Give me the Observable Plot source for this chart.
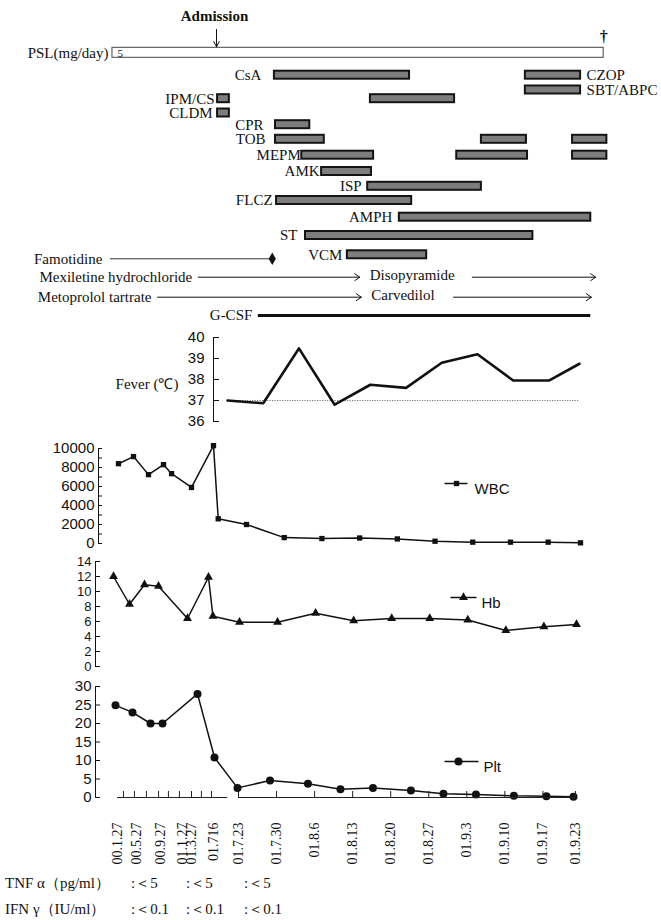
<!DOCTYPE html>
<html>
<head>
<meta charset="utf-8">
<script src="https://cdn.jsdelivr.net/npm/d3@7"></script>
<script src="https://cdn.jsdelivr.net/npm/@observablehq/plot@0.6"></script>
<style>
  body { margin: 0; background: #fff; }
  #fig { position: relative; width: 661px; height: 920px; overflow: hidden; background: #fff; }
  .note { position: absolute; font-family: "Liberation Serif", "Times New Roman", serif; font-size: 15px; line-height: 17px; white-space: pre; color: #111; }
</style>
</head>
<body>
<div id="fig"></div>
<script>
// ================= DATA =================
// Treatment timeline: day 0 = admission (01.7.16)
const lanes = ["Admission","PSL(mg/day)","CsA","SBT/ABPC","IPM/CS","CLDM","CPR","TOB","MEPM","AMK","ISP","FLCZ","AMPH","ST","VCM","Famotidine","Mexiletine hydrochloride","Metoprolol tartrate","G-CSF"];
const admissionDay = 0;
const deathDay = 72.2;
const pslSpan = [-19.4, 72.2];
const pslDose = "5";
const courseDrug  = ["CsA","CZOP","SBT/ABPC","IPM/CS","IPM/CS","CLDM","CPR","TOB","TOB","TOB","MEPM","MEPM","MEPM","AMK","ISP","FLCZ","AMPH","ST","VCM"];
const courseStart = [10.8, 57.6, 57.6, 0.2, 28.7, 0.2, 11.0, 11.0, 49.4, 66.4, 15.9, 44.8, 66.4, 19.6, 28.2, 11.2, 34.1, 16.6, 24.4];
const courseEnd   = [36.0, 67.9, 67.9, 2.4, 44.4, 2.4, 17.4, 20.1, 57.8, 72.8, 29.3, 58.0, 72.8, 28.9, 49.4, 36.4, 69.8, 59.0, 39.2];
const famotidineSpan = [-19.8, 10.4];
const switchFrom = ["Mexiletine hydrochloride", "Metoprolol tartrate"];
const switchTo   = ["Disopyramide", "Carvedilol"];
const fromStart  = [-3.4, -11.0];
const fromEnd    = [26.7, 27.0];
const toStart    = [47.7, 44.2];
const toEnd      = [70.7, 69.9];
const gcsfSpan = [7.8, 69.8];

// Fever (°C)
const feverDates  = ["2001-07-16","2001-07-23","2001-07-30","2001-08-06","2001-08-13","2001-08-20","2001-08-27","2001-09-03","2001-09-10","2001-09-17","2001-09-23"];
const feverValues = [37.0, 36.87, 39.48, 36.8, 37.75, 37.6, 38.8, 39.2, 37.95, 37.95, 38.75];
const feverNormal = 37;
const feverTicks = [36, 37, 38, 39, 40];

// WBC
const wbcDates  = ["2000-01-27","2000-05-27","2000-09-27","2001-01-27","2001-02-13","2001-03-27","2001-07-16","2001-07-17","2001-07-23","2001-07-30","2001-08-06","2001-08-13","2001-08-20","2001-08-27","2001-09-03","2001-09-10","2001-09-17","2001-09-23"];
const wbcValues = [8400, 9150, 7250, 8300, 7350, 5900, 10300, 2600, 2000, 620, 520, 580, 480, 240, 140, 140, 140, 70];
const wbcLabelTicks = [0, 2000, 4000, 6000, 8000, 10000];
const wbcMinorTicks = [0, 1000, 2000, 3000, 4000, 5000, 6000, 7000, 8000, 9000, 10000];

// Hb
const hbDates  = ["2000-01-27","2000-05-27","2000-09-27","2001-01-27","2001-03-27","2001-07-16","2001-07-17","2001-07-23","2001-07-30","2001-08-06","2001-08-13","2001-08-20","2001-08-27","2001-09-03","2001-09-10","2001-09-17","2001-09-23"];
const hbValues = [12.0, 8.3, 10.9, 10.7, 6.4, 11.9, 6.7, 5.9, 5.9, 7.1, 6.1, 6.4, 6.4, 6.2, 4.8, 5.3, 5.6];
const hbTicks = [0, 2, 4, 6, 8, 10, 12, 14];

// Plt
const pltDates  = ["2000-01-27","2000-05-27","2000-09-27","2001-01-27","2001-03-27","2001-07-16","2001-07-23","2001-07-29","2001-08-05","2001-08-11","2001-08-17","2001-08-24","2001-08-30","2001-09-05","2001-09-12","2001-09-18","2001-09-23"];
const pltValues = [24.9, 23.0, 20.0, 20.0, 28.0, 10.8, 2.6, 4.6, 3.7, 2.2, 2.6, 1.9, 1.0, 0.8, 0.45, 0.35, 0.2];
const pltTicks = [0, 5, 10, 15, 20, 25, 30];

// Date axis
const axisLabels     = ["00.1.27","00.5.27","00.9.27","01.1.27","01.3.27","01.716","01.7.23","01.7.30","01.8.6","01.8.13","01.8.20","01.8.27","01.9.3","01.9.10","01.9.17","01.9.23"];
const axisLabelDates = ["2000-01-27","2000-05-27","2000-09-27","2001-01-27","2001-03-27","2001-07-16","2001-07-23","2001-07-30","2001-08-06","2001-08-13","2001-08-20","2001-08-27","2001-09-03","2001-09-10","2001-09-17","2001-09-23"];
const axisBreaks     = ["2000-01-27","2000-05-27","2000-09-27","2001-01-27","2001-03-27","2001-07-16","2001-07-23","2001-09-23"];
const earlyTickDates = ["2000-03-05","2000-05-14","2000-07-17","2000-09-17","2000-11-10","2001-01-10","2001-03-27","2001-05-16","2001-07-06"];
const weeklyTickDates = ["2001-07-23","2001-07-30","2001-08-06","2001-08-13","2001-08-20","2001-08-27","2001-09-03","2001-09-10","2001-09-17","2001-09-23"];
const axisSegments = [["2000-01-27","2001-07-20"], ["2001-07-23","2001-09-23"]];

// Cytokines
const cytokineNames = ["TNF α（pg/ml）", "IFN γ（IU/ml）"];
const tnfValues = [":＜5", ":＜5", ":＜5"];
const ifnValues = [":＜0.1", ":＜0.1", ":＜0.1"];

// ================= DRAWING =================
const parse = d3.utcParse("%Y-%m-%d");
const SERIF = '"Liberation Serif", "Times New Roman", serif';
const SANS = '"Liberation Sans", Arial, sans-serif';
const INK = "#111";
const fig = document.getElementById("fig");
function place(svg, top) {
  svg.style.position = "absolute";
  svg.style.left = "0px";
  svg.style.top = top + "px";
  fig.appendChild(svg);
}

// ---------- Top treatment panel ----------
// lane layout (row order -> vertical position of each row)
const laneLayout = d3.scaleLinear().domain(d3.range(lanes.length))
  .range([16, 52.3, 74.7, 89.5, 98.2, 112.5, 124.2, 138.8, 154.7, 171, 185.8, 200, 216.7, 235, 254.3, 258.3, 276.7, 296.7, 315]);
const L = name => laneLayout(lanes.indexOf(name));
const courses = courseDrug.map((drug, i) => ({drug, lane: L(drug === "CZOP" ? "CsA" : drug), start: courseStart[i], end: courseEnd[i]}));
const rightLabelled = new Set(["CZOP", "SBT/ABPC"]);
const labelGap = {"CsA": 13, "IPM/CS": 3, "CLDM": 5, "CPR": 12, "TOB": 10, "MEPM": 1, "AMK": 2, "ISP": 6, "FLCZ": 4, "AMPH": 7, "ST": 8, "VCM": 5};
const drugLabels = Array.from(d3.group(courses, d => d.drug), ([drug, cs]) => ({
  drug, lane: cs[0].lane,
  right: rightLabelled.has(drug),
  x: rightLabelled.has(drug) ? d3.max(cs, c => c.end) : d3.min(cs, c => c.start)
}));
const switches = switchFrom.map((name, i) => ({name, to: switchTo[i], lane: L(name), a0: fromStart[i], a1: fromEnd[i], b0: toStart[i], b1: toEnd[i]}));

const topMarks = [
  // PSL box
  Plot.rect([pslSpan], {x1: d => d[0], x2: d => d[1], y1: () => L("PSL(mg/day)") - 5, y2: () => L("PSL(mg/day)") + 5, fill: "white", stroke: "#444", strokeWidth: 1}),
  Plot.text([pslSpan], {x: d => d[0], y: () => L("PSL(mg/day)"), text: () => "PSL(mg/day)", textAnchor: "end", dx: -4}),
  Plot.text([pslSpan], {x: d => d[0], y: () => L("PSL(mg/day)"), text: () => pslDose, textAnchor: "start", dx: 5, dy: 1, fontSize: 11}),
  // admission & death
  Plot.text([admissionDay], {x: d => d, y: () => L("Admission"), text: () => "Admission", fontWeight: "bold", dx: -2}),
  Plot.arrow([admissionDay], {x1: d => d, x2: d => d, y1: () => L("Admission"), y2: () => L("PSL(mg/day)"), insetStart: 13, insetEnd: 6, stroke: INK, strokeWidth: 1, headLength: 9, headAngle: 55}),
  Plot.text([deathDay], {x: d => d, y: () => L("PSL(mg/day)"), text: () => "†", dy: -16, fontWeight: "bold", fontSize: 16}),
  // drug courses
  Plot.rect(courses, {x1: "start", x2: "end", y1: d => d.lane - 4, y2: d => d.lane + 4, fill: "#7d7d7d", stroke: "#141414", strokeWidth: 2}),
  ...drugLabels.map(lab => Plot.text([lab], {x: "x", y: "lane", text: "drug", textAnchor: lab.right ? "start" : "end", dx: lab.right ? 6 : -(labelGap[lab.drug] ?? 4)})),
  // famotidine
  Plot.ruleY([famotidineSpan], {x1: d => d[0], x2: d => d[1], y: () => L("Famotidine"), stroke: "#333", strokeWidth: 1}),
  Plot.dot([famotidineSpan], {x: d => d[1], y: () => L("Famotidine"), symbol: "diamond", r: 3.8, fill: INK, stroke: "none"}),
  Plot.text([famotidineSpan], {x: d => d[0], y: () => L("Famotidine"), text: () => "Famotidine", textAnchor: "end", dx: -8}),
  // drug switches
  Plot.arrow(switches, {x1: "a0", x2: "a1", y1: "lane", y2: "lane", stroke: INK, strokeWidth: 1, headLength: 9, headAngle: 70}),
  Plot.arrow(switches, {x1: "b0", x2: "b1", y1: "lane", y2: "lane", stroke: INK, strokeWidth: 1, headLength: 9, headAngle: 70}),
  Plot.text(switches, {x: "a0", y: "lane", text: "name", textAnchor: "end", dx: -6}),
  Plot.text(switches, {x: "a1", y: "lane", text: "to", textAnchor: "start", dx: 10, dy: -2}),
  // G-CSF
  Plot.ruleY([gcsfSpan], {x1: d => d[0], x2: d => d[1], y: () => L("G-CSF"), stroke: INK, strokeWidth: 3}),
  Plot.text([gcsfSpan], {x: d => d[0], y: () => L("G-CSF"), text: () => "G-CSF", textAnchor: "end", dx: -6})
];

place(Plot.plot({
  width: 661, height: 330, margin: 0,
  x: {domain: [0, 69], range: [216, 586], axis: null},
  y: {domain: [0, 330], range: [0, 330], axis: null},
  style: {background: "transparent", fontFamily: SERIF, fontSize: "15px", color: INK, overflow: "visible"},
  marks: topMarks
}), 0);

// ---------- Fever panel ----------
const feverData = feverDates.map((d, i) => ({date: parse(d), value: feverValues[i]}));
place(Plot.plot({
  width: 661, height: 110, marginTop: 12, marginBottom: 14, marginLeft: 213, marginRight: 0,
  x: {type: "utc", domain: [parse(feverDates[0]), parse(feverDates[feverDates.length - 1])], range: [227, 579], axis: null},
  y: {domain: [36, 40], ticks: feverTicks, tickFormat: "d", tickSize: 0, tickPadding: 9, line: true, label: null},
  style: {background: "transparent", fontFamily: SANS, fontSize: "15px", color: INK, overflow: "visible"},
  marks: [
    Plot.tickY(feverTicks, {y: d => d, insetRight: 661 - 213 - 6, stroke: INK}),
    Plot.ruleY([feverNormal], {y: d => d, x1: () => feverData[0].date, x2: () => feverData[feverData.length - 1].date, stroke: "#777", strokeWidth: 1, strokeDasharray: "1.2,1.3"}),
    Plot.line(feverData, {x: "date", y: "value", stroke: INK, strokeWidth: 2.6}),
    Plot.text(["Fever (℃)"], {frameAnchor: "left", dx: -35, dy: 5, textAnchor: "end", text: d => d, fontFamily: SERIF, fontSize: 15})
  ]
}), 325);

// ---------- Lab panels ----------
const lineSym = (a, b) => ({draw(ctx) { ctx.moveTo(a, 0); ctx.lineTo(b, 0); }});
function labPanel(o) {
  const data = o.dates.map((d, i) => ({date: parse(d), value: o.values[i]}));
  const frameW = 661 - o.marginLeft;
  return Plot.plot({
    width: 661, height: o.height, marginTop: o.marginTop, marginBottom: o.marginBottom, marginLeft: o.marginLeft, marginRight: 0,
    x: {type: "utc", domain: axisBreaks.map(parse), range: o.range, axis: null},
    y: {domain: o.yDomain, ticks: o.labelTicks, tickFormat: "d", tickSize: 0, tickPadding: 4, line: true, label: null},
    style: {background: "transparent", fontFamily: SANS, fontSize: o.tickFont + "px", color: INK, overflow: "visible"},
    marks: [
      Plot.tickY(o.minorTicks, {y: d => d, insetRight: frameW - o.tickLen, stroke: INK}),
      Plot.line(data, {x: "date", y: "value", stroke: INK, strokeWidth: 1.5}),
      Plot.dot(data, {x: "date", y: "value", symbol: o.symbol, r: o.r, fill: INK, stroke: "none"}),
      Plot.dot([o.name], {frameAnchor: "top-left", dx: o.lx, dy: o.ly, symbol: lineSym(o.la, o.lb), fill: "none", stroke: INK, strokeWidth: 1.5}),
      Plot.dot([o.name], {frameAnchor: "top-left", dx: o.lx, dy: o.ly, symbol: o.symbol, r: o.r, fill: INK, stroke: "none"}),
      Plot.text([o.name], {frameAnchor: "top-left", dx: o.tx, dy: o.ly, text: d => d, textAnchor: "start", fontFamily: SANS, fontSize: 15})
    ]
  });
}

place(labPanel({
  name: "WBC", dates: wbcDates, values: wbcValues, yDomain: [0, 10000],
  labelTicks: wbcLabelTicks, minorTicks: wbcMinorTicks, tickLen: 4, tickFont: 15,
  height: 120, marginTop: 13, marginBottom: 12, marginLeft: 98,
  range: [118, 133, 148, 163, 191, 213, 246, 580],
  symbol: "square", r: 3,
  lx: 358, ly: 35, la: -12, lb: 11, tx: 376
}), 435);

place(labPanel({
  name: "Hb", dates: hbDates, values: hbValues, yDomain: [0, 14],
  labelTicks: hbTicks, minorTicks: hbTicks, tickLen: 5, tickFont: 13,
  height: 130, marginTop: 11, marginBottom: 14, marginLeft: 95,
  range: [113, 129, 144, 158, 187, 208, 239, 576],
  symbol: "triangle", r: 3.3,
  lx: 368, ly: 36, la: -13, lb: 13, tx: 386
}), 550);

place(labPanel({
  name: "Plt", dates: pltDates, values: pltValues, yDomain: [0, 30],
  labelTicks: pltTicks, minorTicks: pltTicks, tickLen: 5, tickFont: 15,
  height: 125, marginTop: 11, marginBottom: 3, marginLeft: 95,
  range: [115, 132, 150, 162, 197, 214, 237, 573],
  symbol: "circle", r: 4,
  lx: 363, ly: 75, la: -14, lb: 20, tx: 388
}), 675);

// ---------- Date axis ----------
const axisLabelData = axisLabels.map((t, i) => ({text: t, date: parse(axisLabelDates[i])}));
place(Plot.plot({
  width: 661, height: 100, margin: 0,
  x: {type: "utc", domain: axisBreaks.map(parse), range: [117, 136, 160, 182, 191, 213, 238, 575], axis: null},
  y: {domain: [0, 1], range: [10, 4], axis: null},
  style: {background: "transparent", fontFamily: SERIF, fontSize: "14px", color: INK, overflow: "visible"},
  marks: [
    Plot.ruleY(axisSegments, {x1: d => parse(d[0]), x2: d => parse(d[1]), y: () => 0, stroke: "#222", strokeWidth: 1.2}),
    Plot.ruleX(earlyTickDates, {x: d => parse(d), y1: () => 0, y2: () => 1, stroke: "#222"}),
    Plot.ruleX(weeklyTickDates, {x: d => parse(d), y1: () => 0, y2: () => 1, stroke: "#222"}),
    Plot.text(axisLabelData, {x: "date", y: () => 0, text: "text", rotate: -90, textAnchor: "end", dy: 25, fontFamily: SERIF, fontSize: 14})
  ]
}), 787);

// ---------- Cytokine notes ----------
const cols = [131, 186, 244];
[[cytokineNames[0], tnfValues, 875], [cytokineNames[1], ifnValues, 901]].forEach(([name, vals, top]) => {
  const n = document.createElement("div");
  n.className = "note"; n.style.left = "5px"; n.style.top = top + "px"; n.textContent = name;
  fig.appendChild(n);
  vals.forEach((v, i) => {
    const e = document.createElement("div");
    e.className = "note"; e.style.left = cols[i] + "px"; e.style.top = top + "px"; e.textContent = v;
    fig.appendChild(e);
  });
});
</script>
</body>
</html>
